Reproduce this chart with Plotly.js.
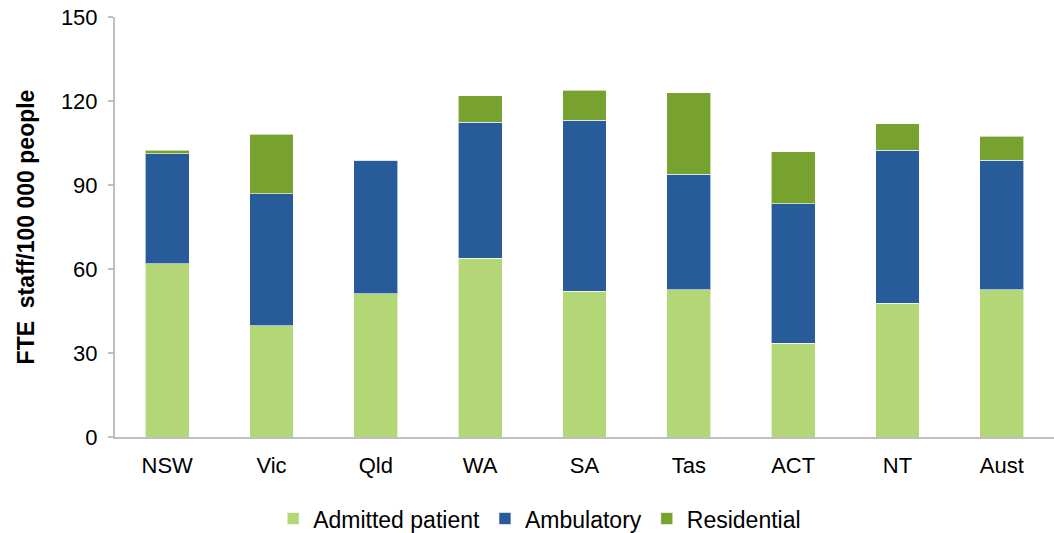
<!DOCTYPE html>
<html>
<head>
<meta charset="utf-8">
<script src="https://cdn.plot.ly/plotly-3.0.1.min.js"></script>
<style>html,body{margin:0;padding:0;background:#fff;}#chart{width:1054px;height:533px;}</style>
</head>
<body>
<div id="chart"></div>
<script>
var categories = ["NSW", "Vic", "Qld", "WA", "SA", "Tas", "ACT", "NT", "Aust"];
var admitted = [61.9, 39.8, 51.2, 63.9, 52.0, 52.6, 33.5, 47.7, 52.6];
var ambulatory = [39.2, 47.0, 47.6, 48.5, 61.2, 41.3, 49.8, 54.8, 46.3];
var residential = [1.3, 21.4, 0, 9.4, 10.6, 29.1, 18.5, 9.3, 8.5];
var yTicks = [0, 30, 60, 90, 120, 150];

var font = "Liberation Sans, Arial, sans-serif";
function tr(name, vals, color) {
  return {type: "bar", name: name, x: categories, y: vals,
    marker: {color: color, line: {color: "rgba(255,255,255,0.6)", width: 1}},
    hoverinfo: "x+y+name"};
}
var data = [
  tr("Admitted patient", admitted, "#B3D676"),
  tr("Ambulatory", ambulatory, "#275B9A"),
  tr("Residential", residential, "#78A22F")
];
var layout = {
  width: 1054, height: 533,
  margin: {l: 115, r: 0, t: 17, b: 96},
  barmode: "stack", bargap: 0.58,
  paper_bgcolor: "#fff", plot_bgcolor: "#fff",
  font: {family: font, size: 22, color: "#000"},
  xaxis: {showline: true, linecolor: "#BFBFBF", linewidth: 2, ticks: "", showgrid: false,
    tickfont: {size: 22}, ticklabelstandoff: 8, automargin: false},
  yaxis: {range: [0, 150], tickvals: yTicks, showline: true, linecolor: "#BFBFBF", linewidth: 2,
    ticks: "outside", ticklen: 5, tickcolor: "#BFBFBF", tickwidth: 2, showgrid: false, zeroline: false,
    tickfont: {size: 22}, ticklabelstandoff: 6,
    title: {text: "FTE  staff/100 000 people", font: {size: 23, family: font, weight: "bold"}, standoff: 20},
    automargin: false},
  legend: {orientation: "h", xref: "container", x: 0.512, xanchor: "center",
    yref: "container", y: 0.027, yanchor: "middle",
    font: {size: 23}, traceorder: "normal", itemwidth: 30},
  showlegend: true
};
Plotly.newPlot("chart", data, layout, {displayModeBar: false, staticPlot: true});
</script>
</body>
</html>
